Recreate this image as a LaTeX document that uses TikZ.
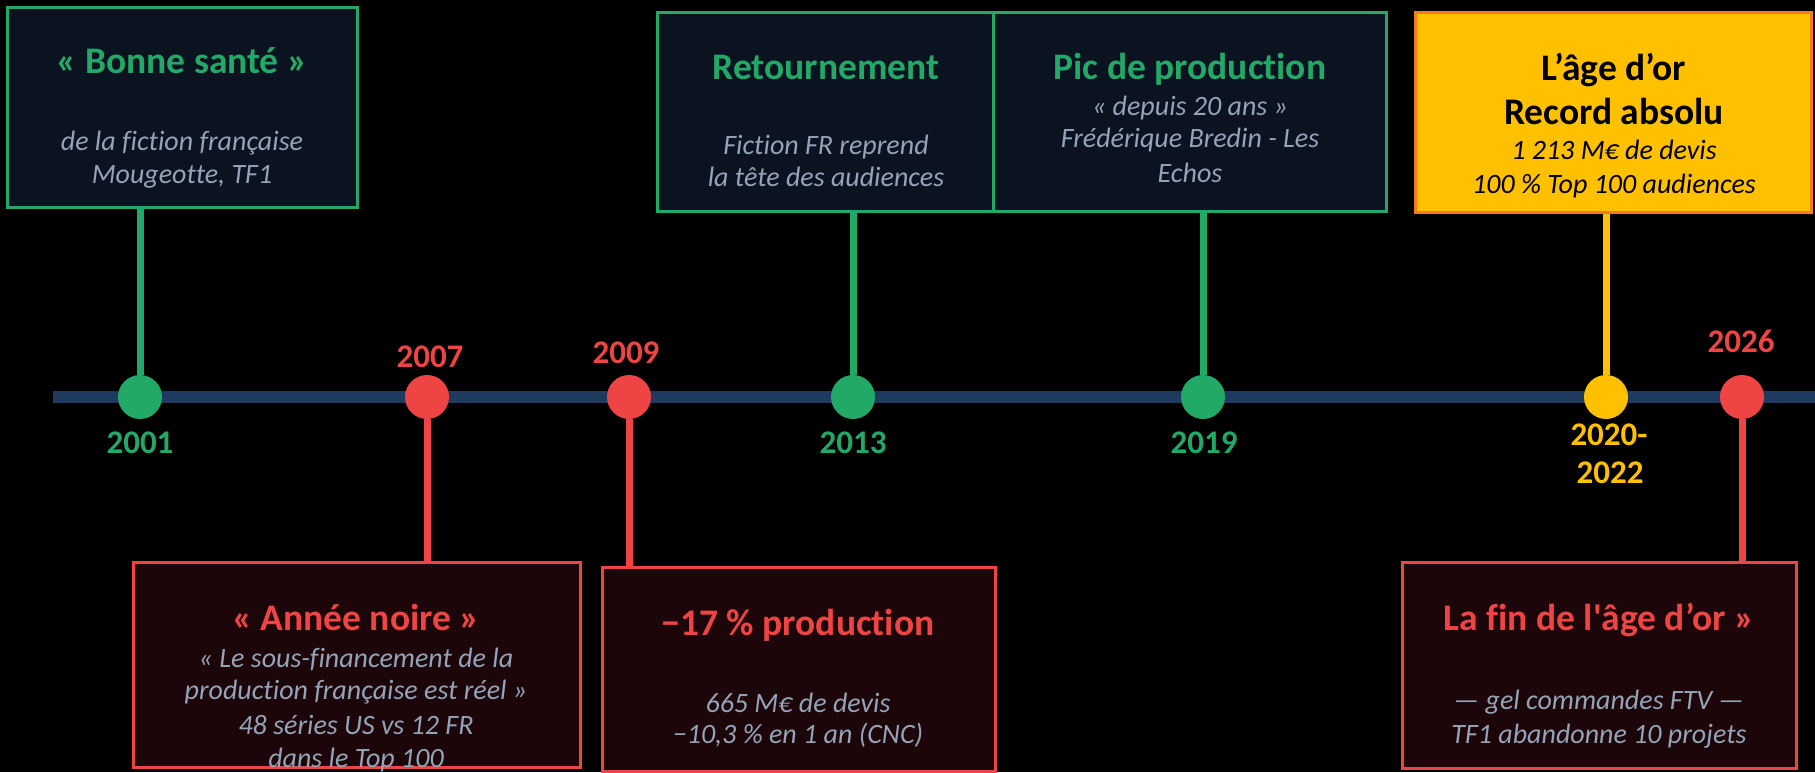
\documentclass[tikz,border=0pt]{standalone}
\usepackage{fontspec}
\setmainfont{Carlito}[Ligatures={TeX,NoCommon}]
\usepackage{tikz}
\usetikzlibrary{positioning}
\definecolor{axisblue}{HTML}{1F3A5F}
\definecolor{okgreen}{HTML}{22A867}
\definecolor{badred}{HTML}{EF4444}
\definecolor{gold}{HTML}{FFC000}
\definecolor{goldedge}{HTML}{F47B20}
\definecolor{navybox}{HTML}{0B1220}
\definecolor{redbox}{HTML}{1C0609}
\definecolor{subgray}{HTML}{94A3B8}
\tikzset{card/.style = {rectangle, line width=3, inner sep=0}}
\tikzset{yeardot/.style = {circle, inner sep=0, minimum size=44}}
\tikzset{stem/.style = {line width=7}}
\tikzset{axisline/.style = {line width=12, axisblue}}
\tikzset{ttl/.style = {anchor=base, inner sep=0, font=\fontsize{37.5}{41}\selectfont\bfseries}}
\tikzset{subln/.style = {anchor=base, inner sep=0, text=subgray, font=\fontsize{28}{32}\selectfont\itshape}}
\tikzset{yr/.style = {anchor=base, inner sep=0, font=\fontsize{33}{37}\selectfont\bfseries}}

\begin{document}
\begin{tikzpicture}[x=1pt,y=-1pt]
    \useasboundingbox (0,0) rectangle (1815,772);
    \fill [black] (0,0) rectangle (1815,772);
    % axis
    \coordinate (ax0) at (53,397);
    \coordinate (ax1) at (1815,397);
    \draw [axisline] (ax0) -- (ax1);
    % cards
    \node [card, draw=okgreen, fill=navybox, minimum width=350, minimum height=200] (b01) at (182,107) {};
    \node [card, draw=okgreen, fill=navybox, minimum width=336, minimum height=199] (b13) at (825,111.5) {};
    \node [card, draw=okgreen, fill=navybox, minimum width=393, minimum height=199] (b19) at (1189.5,111.5) {};
    \node [card, draw=goldedge, fill=gold, minimum width=396, minimum height=200] (b20) at (1613,112) {};
    \node [card, draw=badred, fill=redbox, minimum width=447, minimum height=205] (b07) at (356.5,664.5) {};
    \node [card, draw=badred, fill=redbox, minimum width=393, minimum height=204] (b09) at (798.5,669) {};
    \node [card, draw=badred, fill=redbox, minimum width=394, minimum height=206] (b26) at (1599,665) {};
    % dots
    \node [yeardot, fill=okgreen] (d01) at (140,397) {};
    \node [yeardot, fill=badred] (d07) at (427,397) {};
    \node [yeardot, fill=badred] (d09) at (629,397) {};
    \node [yeardot, fill=okgreen] (d13) at (853,397) {};
    \node [yeardot, fill=okgreen] (d19) at (1203,397) {};
    \node [yeardot, fill=gold] (d20) at (1606,397) {};
    \node [yeardot, fill=badred] (d26) at (1742,397) {};
    % stems
    \draw [stem, okgreen] (d01.north) -- (d01.north |- b01.south);
    \draw [stem, okgreen] (d13.north) -- (d13.north |- b13.south);
    \draw [stem, okgreen] (d19.north) -- (d19.north |- b19.south);
    \draw [stem, gold] (d20.north) -- (d20.north |- b20.south);
    \draw [stem, badred] (d07.south) -- (d07.south |- b07.north);
    \draw [stem, badred] (d09.south) -- (d09.south |- b09.north);
    \draw [stem, badred] (d26.south) -- (d26.south |- b26.north);
    % years
    \node [yr, text=okgreen] (y01) at (140,453) {2001};
    \node [yr, text=badred] (y07) at (430,367) {2007};
    \node [yr, text=badred] (y09) at (626,363) {2009};
    \node [yr, text=okgreen] (y13) at (853,453) {2013};
    \node [yr, text=okgreen] (y19) at (1204,453) {2019};
    \node [yr, text=gold] (y20a) at (1609,445) {2020-};
    \node [yr, text=gold] (y20b) at (1610,483) {2022};
    \node [yr, text=badred] (y26) at (1741,352) {2026};
    % texts, top row
    \node [ttl, text=okgreen] (t01) at (182,73) {« Bonne santé »};
    \node [subln] (s01a) at (182,150) {de la fiction française};
    \node [subln] (s01b) at (182,183) {Mougeotte, TF1};
    \node [ttl, text=okgreen] (t13) at (826,79) {Retournement};
    \node [subln] (s13a) at (826,154) {Fiction FR reprend};
    \node [subln] (s13b) at (826,186) {la tête des audiences};
    \node [ttl, text=okgreen] (t19) at (1190,79) {Pic de production};
    \node [subln] (s19a) at (1190,115) {« depuis 20 ans »};
    \node [subln] (s19b) at (1190,147) {Frédérique Bredin - Les};
    \node [subln] (s19c) at (1190,182) {Echos};
    \node [ttl, text=black] (t20a) at (1614,80) {L’âge d’or};
    \node [ttl, text=black] (t20b) at (1614,124) {Record absolu};
    \node [subln, text=black] (s20a) at (1614,159) {1 213 M€ de devis};
    \node [subln, text=black] (s20b) at (1614,193) {100 \% Top 100 audiences};
    % texts, bottom row
    \node [ttl, text=badred] (t07) at (356,630) {« Année noire »};
    \node [subln] (s07a) at (356,667) {« Le sous-financement de la};
    \node [subln] (s07b) at (356,699) {production française est réel »};
    \node [subln] (s07c) at (356,734) {48 séries US vs 12 FR};
    \node [subln] (s07d) at (356,767) {dans le Top 100};
    \node [ttl, text=badred] (t09) at (798,635) {−17 \% production};
    \node [subln] (s09a) at (798,712) {665 M€ de devis};
    \node [subln] (s09b) at (798,743) {−10,3 \% en 1 an (CNC)};
    \node [ttl, text=badred] (t26) at (1599,630) {La fin de l\textquotesingle âge d’or »};
    \node [subln] (s26a) at (1599,709) {— gel commandes FTV —};
    \node [subln] (s26b) at (1599,743) {TF1 abandonne 10 projets};
\end{tikzpicture}
\end{document}
